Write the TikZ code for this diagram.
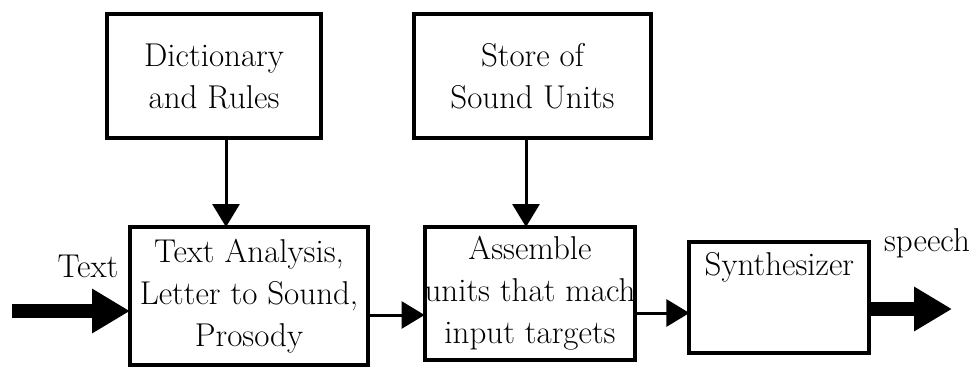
\documentclass[tikz,border=0pt]{standalone}
\usetikzlibrary{arrows.meta,positioning}
\tikzset{/tts/block/.style={
rectangle, draw=black, line width=4pt, inner sep=0, outer sep=0, align=center, anchor=north, font=\fontsize{33}{42}\selectfont
}}
\tikzset{/tts/label/.style={inner sep=0, font=\fontsize{33}{42}\selectfont
}}
\tikzset{/tts/flow/.style={draw, line width=3pt, -{Triangle[length=23pt, width=27pt]}
}}
\tikzset{/tts/bigflow/.style={draw, line width=14pt, -{Triangle[length=38pt, width=42pt]}
}}

\begin{document}
\begin{tikzpicture}[x=1pt, y=-1pt]
			\useasboundingbox (0,0) rectangle (974,372);
			\path (214,14) node[/tts/block, minimum width=214pt, minimum height=124pt] (Dict) {Dictionary\\and Rules};
			\path (Dict.north east) ++(93,0) node[/tts/block, anchor=north west, minimum width=237pt, minimum height=124pt] (Store) {Store of\\Sound Units};
			\path (Dict.south) ++(35,89) node[/tts/block, minimum width=238pt, minimum height=138pt] (Analysis) {Text Analysis,\\Letter to Sound,\\Prosody};
			\path (Store.south) ++(-2.5,89) node[/tts/block, minimum width=210pt, minimum height=133pt] (Assemble) {Assemble\\units that mach\\input targets};
			\path (Assemble.east) ++(54,4) node[/tts/block, anchor=west, minimum width=180pt, text height=33pt, text depth=78pt] (Synth) {Synthesizer};
			\path (88,266) node[/tts/label] (TextIn) {Text};
			\path (927,243) node[/tts/label] (Speech) {speech};
			\coordinate (src) at (12,311);
			\coordinate (sink) at (952,309);
			\coordinate (link1) at ([yshift=-19pt]Analysis.east);
			\coordinate (link2) at ([yshift=-19.5pt]Assemble.east);
			\coordinate (out) at ([yshift=-11.5pt]Synth.east);
			\path[/tts/flow] ([xshift=12pt]Dict.south) -- ([xshift=12pt]Dict.south |- Analysis.north);
			\path[/tts/flow] ([xshift=-6.5pt]Store.south) -- ([xshift=-6.5pt]Store.south |- Assemble.north);
			\path[/tts/bigflow] (src) -- (src -| Analysis.west);
			\path[/tts/flow] (link1) -- (link1 -| Assemble.west);
			\path[/tts/flow] (link2) -- (link2 -| Synth.west);
			\path[/tts/bigflow] (out) -- (sink);
		\end{tikzpicture}
\end{document}
